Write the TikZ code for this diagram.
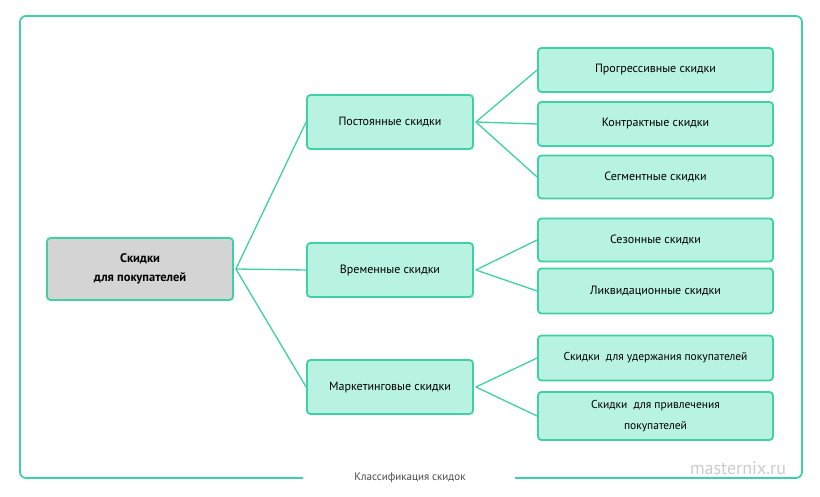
\documentclass[tikz,border=0pt]{standalone}
\usepackage{fontspec}
\setmainfont{PT Sans}
\begin{document}
\begin{tikzpicture}[x=1pt,y=-1pt]
\definecolor{lc}{HTML}{3FD0A6}
\definecolor{fc}{HTML}{B8F2E2}
\tikzset{gr/.style={draw=lc, line width=1.8pt}, ln/.style={draw=lc, line width=1.3pt},
 box/.style={gr, rounded corners=3.5pt, fill=fc, font=\fontsize{12}{19}\selectfont, align=center, inner sep=0pt}}
\useasboundingbox (0,0) rectangle (820,497);
\fill[white] (0,0) rectangle (820,497);
\draw[gr, rounded corners=6pt] (303,478) -- (20,478) -- (20,16) -- (802,16) -- (802,478) -- (515,478);
\node[font=\fontsize{11}{13}\selectfont, text=black!70] (cap) at (410,478) {Классификация скидок};
\node[font=\fontsize{18}{20}\selectfont, text=black!20] (wm) at (738,468) {masternix.ru};
\node[box, fill=black!17, font=\fontsize{12.5}{19}\selectfont\bfseries, minimum width=186pt, minimum height=62pt] (root) at (140,269) {Скидки\\для покупателей};
\node[box, minimum width=166pt, minimum height=54pt] (m1) at (390,122) {Постоянные скидки};
\node[box, minimum width=166pt, minimum height=54pt] (m2) at (390,270) {Временные скидки};
\node[box, minimum width=166pt, minimum height=54pt] (m3) at (390,387) {Маркетинговые скидки};
\node[box, minimum width=235pt, minimum height=44pt] (r1) at (655.5,70) {Прогрессивные скидки};
\node[box, minimum width=235pt, minimum height=44pt] (r2) at (655.5,124) {Контрактные скидки};
\node[box, minimum width=235pt, minimum height=43pt] (r3) at (655.5,177) {Сегментные скидки};
\node[box, minimum width=235pt, minimum height=43pt] (r4) at (655.5,240) {Сезонные скидки};
\node[box, minimum width=235pt, minimum height=45pt] (r5) at (655.5,291) {Ликвидационные скидки};
\node[box, minimum width=235pt, minimum height=45pt, font=\fontsize{11.5}{19}\selectfont] (r6) at (655.5,358) {Скидки \ для удержания покупателей};
\node[box, minimum width=235pt, minimum height=48pt, font=\fontsize{11.5}{21}\selectfont] (r7) at (655.5,416) {Скидки \ для привлечения\\покупателей};
\coordinate (rs) at ([xshift=2pt]root.east);
\foreach \m in {m1,m2,m3} \draw[ln] (rs) -- (\m.west);
\foreach \m/\r in {m1/r1,m1/r2,m1/r3,m2/r4,m2/r5,m3/r6,m3/r7} \draw[ln] ([xshift=2pt]\m.east) -- (\r.west);
\end{tikzpicture}
\end{document}
